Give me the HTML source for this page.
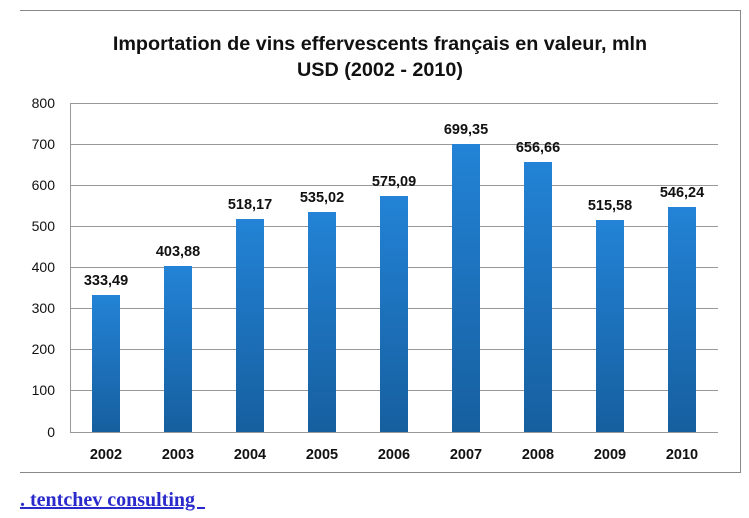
<!DOCTYPE html>
<html><head><meta charset="utf-8"><style>
body{margin:0;width:749px;height:518px;background:#fff;overflow:hidden;font-family:"Liberation Sans",sans-serif;}
.link{position:absolute;left:20px;top:489px;font-family:"Liberation Serif",serif;font-weight:bold;font-size:20px;color:#2a2acc;text-decoration:underline;}
</style></head><body>
<svg width="749" height="518" style="position:absolute;left:0;top:0">
<defs><linearGradient id="g" x1="0" y1="0" x2="0" y2="1"><stop offset="0" stop-color="#2383d6"/><stop offset="1" stop-color="#165f9f"/></linearGradient></defs>
<line x1="20" y1="10.5" x2="741" y2="10.5" stroke="#888"/>
<line x1="740.5" y1="10" x2="740.5" y2="472" stroke="#888"/>
<line x1="20" y1="472.5" x2="741" y2="472.5" stroke="#888"/>
<text x="380" y="50" text-anchor="middle" font-size="19.8" font-weight="bold" fill="#111">Importation de vins effervescents français en valeur, mln</text>
<text x="380" y="76" text-anchor="middle" font-size="19.8" font-weight="bold" fill="#111">USD (2002 - 2010)</text>
<g stroke="#999" stroke-width="1">
<line x1="70" y1="103.5" x2="718" y2="103.5"/><line x1="70" y1="144.5" x2="718" y2="144.5"/><line x1="70" y1="185.5" x2="718" y2="185.5"/><line x1="70" y1="226.5" x2="718" y2="226.5"/><line x1="70" y1="267.5" x2="718" y2="267.5"/><line x1="70" y1="308.5" x2="718" y2="308.5"/><line x1="70" y1="349.5" x2="718" y2="349.5"/><line x1="70" y1="390.5" x2="718" y2="390.5"/><line x1="70" y1="432.5" x2="718" y2="432.5"/><line x1="70.5" y1="103" x2="70.5" y2="432"/>
</g>
<g font-size="14" fill="#111" text-anchor="end">
<text x="55" y="108">800</text><text x="55" y="149">700</text><text x="55" y="190">600</text><text x="55" y="231">500</text><text x="55" y="272">400</text><text x="55" y="313">300</text><text x="55" y="354">200</text><text x="55" y="395">100</text><text x="55" y="437">0</text>
</g>
<g fill="url(#g)">
<rect x="92" y="295" width="28" height="137"/>
<rect x="164" y="266" width="28" height="166"/>
<rect x="236" y="219" width="28" height="213"/>
<rect x="308" y="212" width="28" height="220"/>
<rect x="380" y="196" width="28" height="236"/>
<rect x="452" y="144" width="28" height="288"/>
<rect x="524" y="162" width="28" height="270"/>
<rect x="596" y="220" width="28" height="212"/>
<rect x="668" y="207" width="28" height="225"/>
</g>
<g font-size="14.5" font-weight="bold" fill="#111" text-anchor="middle">
<text x="106" y="285">333,49</text><text x="178" y="256">403,88</text><text x="250" y="209">518,17</text><text x="322" y="202">535,02</text><text x="394" y="186">575,09</text><text x="466" y="134">699,35</text><text x="538" y="152">656,66</text><text x="610" y="210">515,58</text><text x="682" y="197">546,24</text>
<text x="106" y="459">2002</text><text x="178" y="459">2003</text><text x="250" y="459">2004</text><text x="322" y="459">2005</text><text x="394" y="459">2006</text><text x="466" y="459">2007</text><text x="538" y="459">2008</text><text x="610" y="459">2009</text><text x="682" y="459">2010</text>
</g>
</svg>
<div class="link">. tentchev consulting&nbsp;&nbsp;</div>
</body></html>
